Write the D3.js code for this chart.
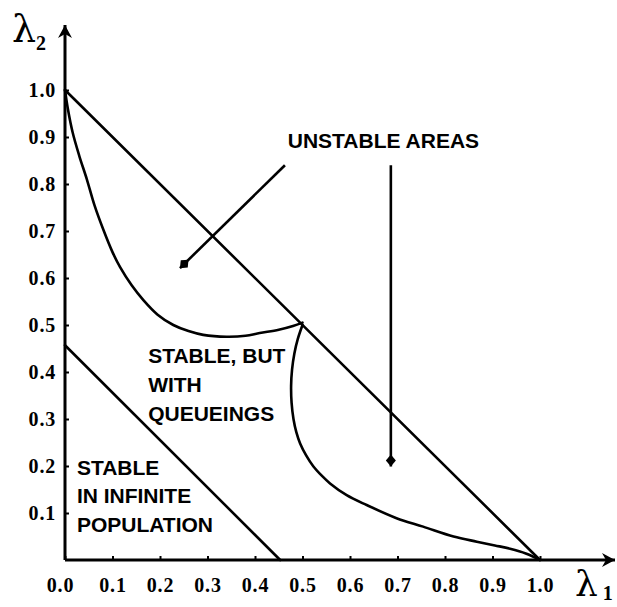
<!DOCTYPE html>
<html>
<head>
<meta charset="utf-8">
<script src="https://cdn.jsdelivr.net/npm/d3@7"></script>
<style>
  html, body { margin: 0; padding: 0; background: #fff; }
  svg { display: block; }
</style>
</head>
<body>
<svg id="chart" width="617" height="607"></svg>
<script>
// ---------- data ----------
const xTickValues = [0.0, 0.1, 0.2, 0.3, 0.4, 0.5, 0.6, 0.7, 0.8, 0.9, 1.0];
const yTickValues = [0.1, 0.2, 0.3, 0.4, 0.5, 0.6, 0.7, 0.8, 0.9, 1.0];

// total-capacity boundary  λ1 + λ2 = 1
const diagX = [0.0, 1.0];
const diagY = [1.0, 0.0];

// infinite-population stability boundary
const infX = [0.0, 0.453];
const infY = [0.457, 0.0];

// upper-left queueing boundary
const upperX = [0.0, 0.006, 0.016, 0.03, 0.046, 0.062, 0.081, 0.1, 0.116, 0.14, 0.165, 0.195, 0.228, 0.26, 0.291, 0.34, 0.38, 0.41, 0.45, 0.48, 0.5];
const upperY = [1.0, 0.96, 0.91, 0.86, 0.81, 0.755, 0.702, 0.655, 0.623, 0.585, 0.553, 0.522, 0.5, 0.487, 0.479, 0.475, 0.477, 0.483, 0.49, 0.498, 0.505];

// lower-right queueing boundary
const lowerX = [0.5, 0.49, 0.483, 0.478, 0.476, 0.477, 0.481, 0.487, 0.495, 0.508, 0.523, 0.54, 0.558, 0.593, 0.635, 0.698, 0.754, 0.818, 0.867, 0.905, 0.937, 0.97, 1.0];
const lowerY = [0.5, 0.47, 0.44, 0.405, 0.37, 0.335, 0.3, 0.272, 0.248, 0.222, 0.199, 0.18, 0.163, 0.138, 0.117, 0.089, 0.071, 0.05, 0.039, 0.031, 0.024, 0.014, 0.0];

// pointer arrows (from -> to)
const arrowFromX = [0.463, 0.686];
const arrowFromY = [0.84, 0.84];
const arrowToX = [0.242, 0.686];
const arrowToY = [0.621, 0.199];

const unstableLabel = ["UNSTABLE AREAS"];
const queueLabel = ["STABLE, BUT", "WITH", "QUEUEINGS"];
const infiniteLabel = ["STABLE", "IN INFINITE", "POPULATION"];

// ---------- layout ----------
const svg = d3.select("#chart");
svg.append("rect").attr("width", 617).attr("height", 607).attr("fill", "#fff");

const x = d3.scaleLinear().domain([0, 1]).range([65, 540]);
const y = d3.scaleLinear().domain([0, 1]).range([560, 90]);

const defs = svg.append("defs");
defs.append("marker")
  .attr("id", "axisArrow").attr("viewBox", "-14 -8 16 16")
  .attr("refX", 0).attr("refY", 0)
  .attr("markerWidth", 16).attr("markerHeight", 16)
  .attr("markerUnits", "userSpaceOnUse").attr("orient", "auto")
  .append("path").attr("d", "M0,0 L-13,-7 L-9,0 L-13,7 Z").attr("fill", "#000");
defs.append("marker")
  .attr("id", "ptrArrow").attr("viewBox", "-13 -6 15 12")
  .attr("refX", 0).attr("refY", 0)
  .attr("markerWidth", 15).attr("markerHeight", 12)
  .attr("markerUnits", "userSpaceOnUse").attr("orient", "auto")
  .append("path").attr("d", "M0,0 L-6,-5 L-12,0 L-6,5 Z").attr("fill", "#000");

// axes with inward ticks
const serif = "'Liberation Serif', 'Times New Roman', serif";
const xAxis = svg.append("g").attr("transform", `translate(0,${y(0)})`)
  .call(d3.axisBottom(x).tickValues(xTickValues).tickFormat(d3.format(".1f"))
    .tickSizeInner(-4).tickSizeOuter(0).tickPadding(18));
const yAxis = svg.append("g").attr("transform", `translate(${x(0)},0)`)
  .call(d3.axisLeft(y).tickValues(yTickValues).tickFormat(d3.format(".1f"))
    .tickSizeInner(-4).tickSizeOuter(0).tickPadding(9));
[xAxis, yAxis].forEach(g => {
  g.select(".domain").remove();
  g.selectAll(".tick line").attr("stroke", "#000").attr("stroke-width", 2);
  g.selectAll(".tick text")
    .attr("fill", "#000")
    .style("font-family", serif)
    .style("font-weight", "bold")
    .style("font-size", "20px")
    .style("letter-spacing", "0.8px");
});
xAxis.selectAll(".tick text").filter(d => d === 0).attr("dx", -5);

// axis lines with arrows
svg.append("line")
  .attr("x1", x(0)).attr("y1", y(0)).attr("x2", 615).attr("y2", y(0))
  .attr("stroke", "#000").attr("stroke-width", 3).attr("marker-end", "url(#axisArrow)");
svg.append("line")
  .attr("x1", x(0)).attr("y1", y(0)).attr("x2", x(0)).attr("y2", 25)
  .attr("stroke", "#000").attr("stroke-width", 3).attr("marker-end", "url(#axisArrow)");

// curves
const pts = (xs, ys) => xs.map((v, i) => [v, ys[i]]);
const straight = d3.line().x(d => x(d[0])).y(d => y(d[1]));
const smooth = d3.line().x(d => x(d[0])).y(d => y(d[1])).curve(d3.curveCatmullRom.alpha(0.5));

const lineStyle = sel => sel.attr("fill", "none").attr("stroke", "#000")
  .attr("stroke-width", 2.6).attr("stroke-linejoin", "round").attr("stroke-linecap", "round");

svg.append("path").attr("d", straight(pts(diagX, diagY))).call(lineStyle);
svg.append("path").attr("d", straight(pts(infX, infY))).call(lineStyle);
svg.append("path").attr("d", smooth(pts(upperX, upperY))).call(lineStyle);
svg.append("path").attr("d", smooth(pts(lowerX, lowerY))).call(lineStyle);

// pointer arrows
arrowFromX.forEach((fx, i) => {
  svg.append("line")
    .attr("x1", x(fx)).attr("y1", y(arrowFromY[i]))
    .attr("x2", x(arrowToX[i])).attr("y2", y(arrowToY[i]))
    .attr("stroke", "#000").attr("stroke-width", 2.6)
    .attr("marker-end", "url(#ptrArrow)");
});

// annotation text
const sans = "'Liberation Sans', Arial, Helvetica, sans-serif";
const textBlock = (lines, x0, yBase, step) => {
  const t = svg.append("text")
    .style("font-family", sans).style("font-weight", "bold")
    .style("font-size", "21px").style("letter-spacing", "0px")
    .attr("fill", "#000");
  lines.forEach((s, i) => {
    t.append("tspan").attr("x", x0).attr("y", yBase + i * step).text(s);
  });
};
textBlock(unstableLabel, x(0.469), y(0.877), 29);
textBlock(queueLabel, x(0.175), y(0.419), 29);
textBlock(infiniteLabel, x(0.025), y(0.181), 28.3);

// axis titles λ1, λ2
const lam = (px, py, sub, size, subDx, subDy) => {
  const t = svg.append("text").attr("x", px).attr("y", py)
    .style("font-family", "'DejaVu Serif', serif").attr("fill", "#000");
  t.append("tspan").style("font-size", size + "px").text("λ");
  t.append("tspan").attr("dx", subDx).attr("dy", subDy)
    .style("font-size", "20px").style("font-family", serif).style("font-weight", "bold").text(sub);
};
lam(12, 42, "2", 38, 0, 8);
lam(575, 596, "1", 36, 5, 4);
</script>
</body>
</html>
